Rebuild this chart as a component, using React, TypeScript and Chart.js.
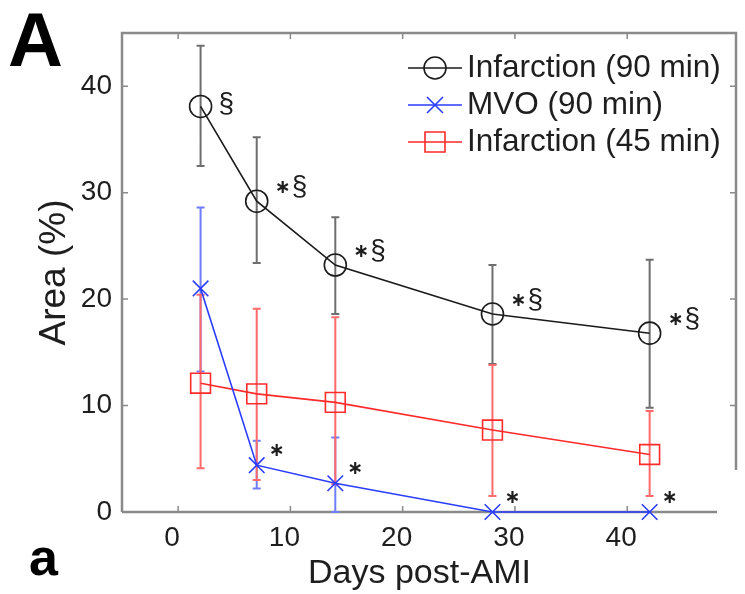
import { useEffect, useRef } from "react";
import { Chart, registerables } from "chart.js";

Chart.register(...registerables);

// ---------- data ----------
const days = [2, 7, 14, 28, 42];
const inf90 = [38.1, 29.2, 23.2, 18.6, 16.8];
const inf90Hi = [43.8, 35.2, 27.7, 23.2, 23.7];
const inf90Lo = [32.5, 23.4, 18.6, 13.9, 9.8];
const mvo90 = [21.0, 4.4, 2.7, 0, 0];
const mvo90Hi = [28.6, 6.7, 7.0, 0, 0];
const mvo90Lo = [13.2, 2.2, 0, 0, 0];
const inf45 = [12.1, 11.1, 10.3, 7.7, 5.4];
const inf45Hi = [20.4, 19.1, 18.3, 13.8, 9.5];
const inf45Lo = [4.1, 3.0, 2.6, 1.5, 1.5];
const inf90Marks = ["§", "∗§", "∗§", "∗§", "∗§"];
const mvo90Marks = ["", "∗", "∗", "∗", "∗"];
const xTicks = [0, 10, 20, 30, 40];
const yTicks = [0, 10, 20, 30, 40];
const seriesLabels = ["Infarction (90 min)", "MVO (90 min)", "Infarction (45 min)"];
const xTitle = "Days post-AMI";
const yTitle = "Area (%)";
const panelLetter = "A";
const subLetter = "a";

const FONT = "'Liberation Sans', Arial, Helvetica, sans-serif";
const TXT = "#1e1e1e";
const AXIS = "#8a8a8a";

const colors = ["#1a1a1a", "#2a3cff", "#ff2a2a"];
const errColors = ["#6e6e6e", "#6f7dff", "#ff6a6a"];
const pointStyles = ["circle", "crossRot", "rect"];
const pointRadii = [11, 11, 14];

const series = [
  { y: inf90, hi: inf90Hi, lo: inf90Lo },
  { y: mvo90, hi: mvo90Hi, lo: mvo90Lo },
  { y: inf45, hi: inf45Hi, lo: inf45Lo },
];

const RIGHT_EDGE = 736;
const RIGHT_EDGE_BOTTOM = 470;

function drawMark(ctx: any, text: string, x: number, y: number) {
  let cx = x;
  for (const ch of text) {
    if (ch === "∗") {
      ctx.font = `bold 19px 'DejaVu Sans', ${FONT}`;
      ctx.fillText(ch, cx, y + 1);
      cx += ctx.measureText(ch).width + 1;
    } else {
      ctx.font = `28px ${FONT}`;
      ctx.fillText(ch, cx, y);
      cx += ctx.measureText(ch).width;
    }
  }
}

const framePlugin = {
  id: "frame",
  beforeDatasetsDraw(chart: any) {
    const { ctx, chartArea } = chart;
    const xs = chart.scales.x;
    const ys = chart.scales.y;
    const { left, right, top, bottom } = chartArea;
    ctx.save();
    ctx.strokeStyle = AXIS;
    ctx.lineWidth = 2.5;
    ctx.beginPath();
    ctx.moveTo(left, bottom);
    ctx.lineTo(right, bottom);
    ctx.moveTo(left, bottom);
    ctx.lineTo(left, top);
    ctx.lineTo(RIGHT_EDGE, top);
    ctx.lineTo(RIGHT_EDGE, RIGHT_EDGE_BOTTOM);
    ctx.stroke();
    ctx.lineWidth = 1.5;
    ctx.beginPath();
    xTicks.forEach((v) => {
      const px = xs.getPixelForValue(v);
      ctx.moveTo(px, bottom);
      ctx.lineTo(px, bottom - 6);
      ctx.moveTo(px, top);
      ctx.lineTo(px, top + 6);
    });
    yTicks.forEach((v) => {
      const py = ys.getPixelForValue(v);
      ctx.moveTo(left, py);
      ctx.lineTo(left + 6, py);
      if (py < RIGHT_EDGE_BOTTOM) {
        ctx.moveTo(RIGHT_EDGE, py);
        ctx.lineTo(RIGHT_EDGE - 6, py);
      }
    });
    ctx.stroke();

    // error bars
    series.forEach((s, i) => {
      ctx.strokeStyle = errColors[i];
      ctx.lineWidth = 2;
      ctx.beginPath();
      days.forEach((d, j) => {
        const px = xs.getPixelForValue(d);
        const pHi = ys.getPixelForValue(s.hi[j]);
        const pLo = ys.getPixelForValue(s.lo[j]);
        if (Math.abs(pHi - pLo) < 0.5) return;
        ctx.moveTo(px, pHi);
        ctx.lineTo(px, pLo);
        ctx.moveTo(px - 4, pHi);
        ctx.lineTo(px + 4, pHi);
        ctx.moveTo(px - 4, pLo);
        ctx.lineTo(px + 4, pLo);
      });
      ctx.stroke();
    });
    ctx.restore();
  },
  afterDatasetsDraw(chart: any) {
    const { ctx } = chart;
    const xs = chart.scales.x;
    const ys = chart.scales.y;
    ctx.save();
    ctx.fillStyle = TXT;
    ctx.textBaseline = "middle";
    ctx.textAlign = "left";
    days.forEach((d, j) => {
      const px = xs.getPixelForValue(d);
      const py = ys.getPixelForValue(inf90[j]);
      const m = inf90Marks[j];
      if (m) {
        if (j === 0) drawMark(ctx, m, px + 18, py - 2);
        else drawMark(ctx, m, px + 18, py - 14);
      }
      const pm = ys.getPixelForValue(mvo90[j]);
      const mm = mvo90Marks[j];
      if (mm) drawMark(ctx, mm, px + 12, pm - 15);
    });

    // legend
    const lx0 = 408;
    const lx1 = 462;
    seriesLabels.forEach((lab, i) => {
      const ly = 68 + i * 37;
      ctx.strokeStyle = colors[i];
      ctx.lineWidth = 1.6;
      ctx.beginPath();
      ctx.moveTo(lx0, ly);
      ctx.lineTo(lx1, ly);
      ctx.stroke();
      const cx = (lx0 + lx1) / 2;
      ctx.beginPath();
      if (pointStyles[i] === "circle") {
        ctx.arc(cx, ly, 11, 0, Math.PI * 2);
      } else if (pointStyles[i] === "rect") {
        ctx.rect(cx - 10, ly - 10, 20, 20);
      } else {
        ctx.moveTo(cx - 8, ly - 8);
        ctx.lineTo(cx + 8, ly + 8);
        ctx.moveTo(cx - 8, ly + 8);
        ctx.lineTo(cx + 8, ly - 8);
      }
      ctx.stroke();
      ctx.fillStyle = TXT;
      ctx.font = `31.5px ${FONT}`;
      ctx.fillText(lab, 467, ly);
    });

    // panel letters
    ctx.fillStyle = "#000";
    ctx.textBaseline = "alphabetic";
    ctx.font = `bold 76px ${FONT}`;
    ctx.fillText(panelLetter, 8, 66);
    ctx.font = `bold 52px ${FONT}`;
    ctx.fillText(subLetter, 29, 575);
    ctx.restore();
  },
};

export default function App() {
  const ref = useRef<HTMLCanvasElement | null>(null);
  useEffect(() => {
    if (!ref.current) return;
    const chart = new Chart(ref.current, {
      type: "scatter",
      data: {
        datasets: series.map((s, i) => ({
          label: seriesLabels[i],
          data: days.map((d, j) => ({ x: d, y: s.y[j] })),
          showLine: true,
          borderColor: colors[i],
          borderWidth: 1.6,
          pointStyle: pointStyles[i] as any,
          pointRadius: pointRadii[i],
          pointBorderColor: colors[i],
          pointBorderWidth: 1.6,
          pointBackgroundColor: "rgba(0,0,0,0)",
          clip: false as any,
        })),
      },
      options: {
        animation: false,
        responsive: false,
        maintainAspectRatio: false,
        layout: { padding: { top: 33, right: 28, left: 0, bottom: 0 } },
        plugins: { legend: { display: false }, tooltip: { enabled: false } },
        scales: {
          x: {
            type: "linear",
            min: -5,
            max: 48,
            afterBuildTicks: (s: any) => {
              s.ticks = xTicks.map((v) => ({ value: v }));
            },
            afterFit: (s: any) => {
              s.height = 82;
            },
            grid: { display: false, drawTicks: false },
            border: { display: false },
            ticks: { font: { family: FONT, size: 28 }, color: TXT, padding: 9, maxRotation: 0, labelOffset: -6 },
            title: {
              display: true,
              text: xTitle,
              font: { family: FONT, size: 34 },
              color: TXT,
              padding: { top: 0, bottom: 0 },
            },
          },
          y: {
            type: "linear",
            min: 0,
            max: 45,
            afterBuildTicks: (s: any) => {
              s.ticks = yTicks.map((v) => ({ value: v }));
            },
            afterFit: (s: any) => {
              s.width = 122;
            },
            grid: { display: false, drawTicks: false },
            border: { display: false },
            ticks: { font: { family: FONT, size: 28 }, color: TXT, padding: 10 },
            title: {
              display: true,
              text: yTitle,
              font: { family: FONT, size: 37 },
              color: TXT,
              padding: { top: 33, bottom: 0 },
            },
          },
        },
      },
      plugins: [framePlugin],
    });
    return () => chart.destroy();
  }, []);
  return (
    <div style={{ position: "absolute", left: 0, top: 0, width: 745, height: 594, background: "#fff" }}>
      <canvas ref={ref} width={745} height={594} />
    </div>
  );
}
